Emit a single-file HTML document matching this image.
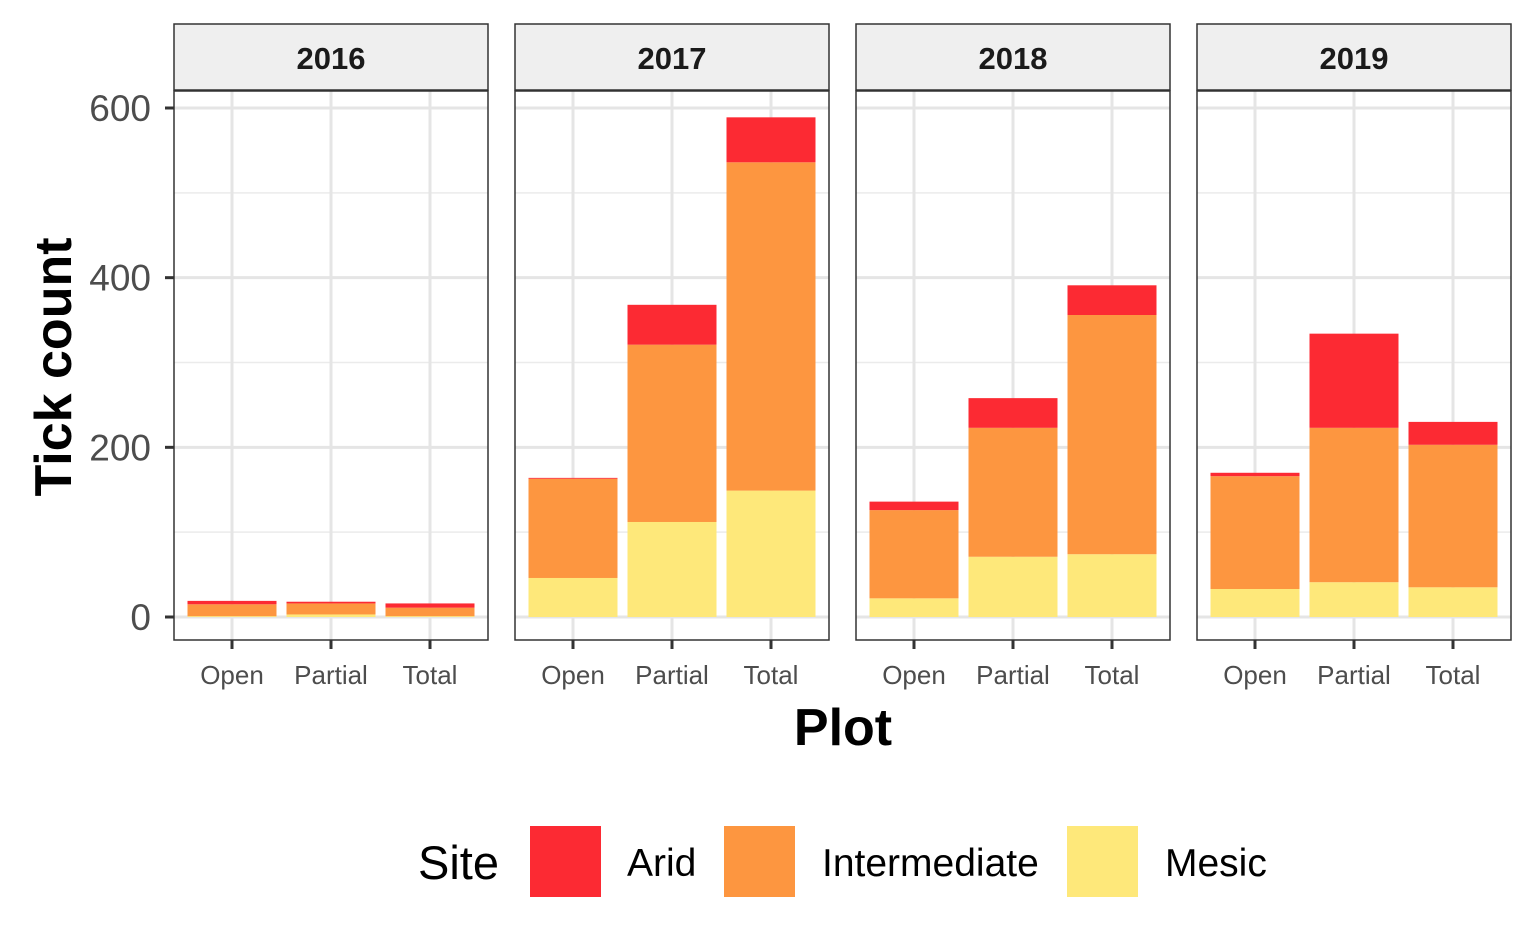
<!DOCTYPE html>
<html><head><meta charset="utf-8"><style>
body{margin:0;background:#fff;}
svg{display:block;font-family:"Liberation Sans",Arial,sans-serif;}
</style></head><body>
<svg id="chart" width="1536" height="949"></svg>
<script>
const years=["2016","2017","2018","2019"];
const plots=["Open","Partial","Total"];
const sites=["Mesic","Intermediate","Arid"];
const mesic=[[1,3,1],[46,112,149],[22,71,74],[33,41,35]];
const intermediate=[[14,13,10],[117,209,387],[104,152,282],[133,182,168]];
const arid=[[4,2,5],[1,47,53],[10,35,35],[4,111,27]];
const yTicks=[0,200,400,600];
const colors={Mesic:"#FEE87A",Intermediate:"#FD9640",Arid:"#FC2A33"};
const NS="http://www.w3.org/2000/svg";
const svg=document.getElementById("chart");
function mk(tag,attrs,parent){const e=document.createElementNS(NS,tag);for(const k in attrs)e.setAttribute(k,attrs[k]);(parent||svg).appendChild(e);return e;}
const panelX=[174,515,856,1197],panelW=314,panelTop=91,panelBot=640;
const y=v=>617-v*509/600;
const xb=(p,i)=>panelX[p]+58+i*99;
years.forEach((yr,p)=>{
  const g=mk("g",{});
  
  
  const x0=panelX[p];
  const strip=mk("rect",{x:x0,y:24,width:panelW,height:66,fill:"#EFEFEF",stroke:"#333","stroke-width":1.5},g);
  
  
  const st=mk("text",{x:x0+panelW/2,y:69,"text-anchor":"middle","font-size":31,"font-weight":"bold",fill:"#1a1a1a"},g);
  st.textContent=yr;
  
  
  [100,300,500].forEach(v=>mk("line",{x1:x0,x2:x0+panelW,y1:y(v),y2:y(v),stroke:"#EBEBEB","stroke-width":1.5},g));
  yTicks.forEach(v=>mk("line",{x1:x0,x2:x0+panelW,y1:y(v),y2:y(v),stroke:"#E5E5E5","stroke-width":3},g));
  plots.forEach((pl,i)=>mk("line",{x1:xb(p,i),x2:xb(p,i),y1:panelTop,y2:panelBot,stroke:"#E5E5E5","stroke-width":3},g));
  plots.forEach((pl,i)=>{
    const vals=[mesic[p][i],intermediate[p][i],arid[p][i]];
    let base=0;
    vals.forEach((v,s)=>{
      const r=mk("rect",{x:xb(p,i)-44.5,y:y(base+v),width:89,height:y(base)-y(base+v),fill:colors[sites[s]]},g);
      
      
      base+=v;
    });
    mk("line",{x1:xb(p,i),x2:xb(p,i),y1:panelBot,y2:panelBot+9,stroke:"#333","stroke-width":3},g);
    const t=mk("text",{x:xb(p,i),y:684,"text-anchor":"middle","font-size":26,fill:"#4d4d4d"},g);
    t.textContent=pl;
    
    
  });
  mk("rect",{x:x0,y:panelTop,width:panelW,height:panelBot-panelTop,fill:"none",stroke:"#333","stroke-width":1.5},g);
});
yTicks.forEach(v=>{
  mk("line",{x1:165,x2:174,y1:y(v),y2:y(v),stroke:"#333","stroke-width":3});
  const t=mk("text",{x:151,y:y(v)+13,"text-anchor":"end","font-size":37,fill:"#4d4d4d"});
  t.textContent=v;
  
  
});
const yt=mk("text",{x:0,y:0,transform:"translate(71,367) rotate(-90)","text-anchor":"middle","font-size":52,"font-weight":"bold",fill:"#000"});
yt.textContent="Tick count";


const xt=mk("text",{x:843,y:745,"text-anchor":"middle","font-size":52,"font-weight":"bold",fill:"#000"});
xt.textContent="Plot";


const lg=mk("g",{});


const lt=mk("text",{x:418,y:879,"font-size":47,fill:"#000"},lg);
lt.textContent="Site";


const legItems=[["Arid",530,627],["Intermediate",724,822],["Mesic",1067,1165]];
legItems.forEach(([n,kx,tx])=>{
  const r=mk("rect",{x:kx,y:826,width:71,height:71,fill:colors[n]},lg);
  
  
  const t=mk("text",{x:tx,y:876,"font-size":39,fill:"#000"},lg);
  t.textContent=n;
  
  
});
</script>
</body></html>
